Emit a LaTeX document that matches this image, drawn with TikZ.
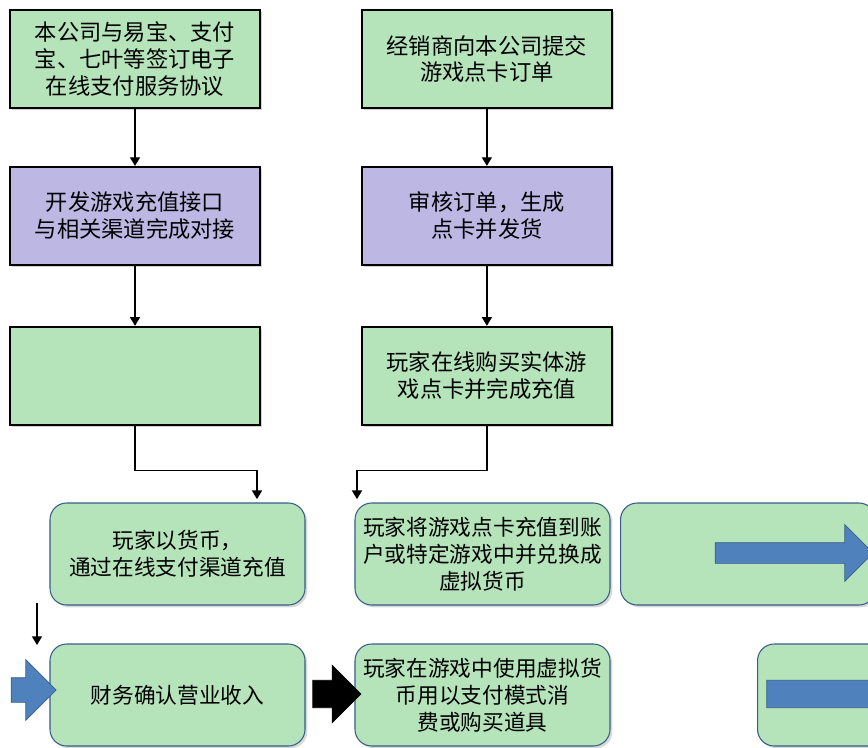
\documentclass[tikz,border=0pt]{standalone}
\usepackage{fontspec}
\newfontfamily\cjk{Noto Sans CJK SC}
\definecolor{ink}{HTML}{000000}
\definecolor{leafc}{HTML}{B5E3BA}
\definecolor{lilacc}{HTML}{BDB7E4}
\definecolor{edgec}{HTML}{385D8A}
\definecolor{arrowc}{HTML}{4F81BD}
\usetikzlibrary{arrows.meta,positioning,calc,shapes.arrows,shadows}

\begin{document}
\begin{tikzpicture}[x=0.03cm,y=-0.03cm,node distance=1.71cm and 3cm,every node/.style={font=\cjk\fontsize{19}{23}\selectfont}]
\tikzstyle{stage}=[draw=ink,line width=1.6pt,minimum width=7.5cm,minimum height=2.94cm,align=center,inner sep=1pt,drop shadow={opacity=0.35,shadow xshift=2pt,shadow yshift=-2pt}]
\tikzstyle{flow}=[rounded corners=5mm,draw=edgec,line width=0.9pt,fill=leafc,minimum width=7.65cm,minimum height=3.06cm,align=center,inner sep=0pt,font=\cjk\fontsize{18.5}{23}\selectfont,drop shadow={opacity=0.3,shadow xshift=2pt,shadow yshift=-2pt}]
\tikzstyle{link}=[-{Triangle[length=2.6mm,width=3mm]},line width=1.2pt,ink]
\tikzstyle{blockarrow}=[single arrow,draw=edgec,fill=arrowc,line width=0.6pt,inner sep=0pt,anchor=center]
\useasboundingbox (0,0) rectangle (868,747);
\clip (0,0) rectangle (868,747);
% two columns of steps
\node[stage,fill=leafc] (sign) at (135,59) {本公司与易宝、支付\\宝、七叶等签订电子\\在线支付服务协议};
\node[stage,fill=leafc,right=of sign] (order) {经销商向本公司提交\\游戏点卡订单};
\node[stage,fill=lilacc,below=of sign] (dev) {开发游戏充值接口\\与相关渠道完成对接};
\node[stage,fill=lilacc,below=of order] (audit) {审核订单，生成\\点卡并发货};
\node[stage,fill=leafc,below=1.8cm of dev] (pay) {};
\node[stage,fill=leafc,below=1.8cm of audit] (shop) {玩家在线购买实体游\\戏点卡并完成充值};
% process rows
\node[flow] (cash) at (177.5,554) {玩家以货币，\\通过在线支付渠道充值};
\node[flow] (topup) at (482.5,554) {玩家将游戏点卡充值到账\\户或特定游戏中并兑换成\\虚拟货币};
\node[flow,anchor=west] (next) at (620,554) {};
\node[flow] (book) at (177.5,695) {财务确认营业收入};
\node[flow] (spend) at (482.5,695) {玩家在游戏中使用虚拟货\\币用以支付模式消\\费或购买道具};
\node[flow,anchor=west] (last) at (757,695) {};
\node[blockarrow,minimum height=4.74cm,minimum width=1.68cm,inner ysep=0.3cm,single arrow head extend=0.54cm] (outa) at (789,553) {};
\node[blockarrow,minimum height=1.35cm,minimum width=1.8cm,inner ysep=0.36cm,single arrow head extend=0.54cm] (ina) at (27.5,690) {};
\node[blockarrow,fill=ink,draw=ink,minimum height=1.44cm,minimum width=1.71cm,inner ysep=0.4cm,single arrow head extend=0.45cm] (tosp) at (330,694) {};
\node[blockarrow,minimum height=4.2cm,minimum width=1.3cm,inner ysep=0.4cm,single arrow head extend=0.25cm] (outb) at (830,694) {};
\coordinate (drop) at (37,603);
% connectors
\draw[link] (sign)--(dev);
\draw[link] (dev)--(pay);
\draw[link] (order)--(audit);
\draw[link] (audit)--(shop);
\draw[link] (pay.south) -- ++(0,45) -| ([xshift=2.385cm,yshift=0.1cm]cash.north);
\draw[link] (shop.south) -- ++(0,45) -| ([xshift=-3.765cm,yshift=0.1cm]topup.north);
\draw[link] (drop) -- ++(0,42);
\end{tikzpicture}
\end{document}
